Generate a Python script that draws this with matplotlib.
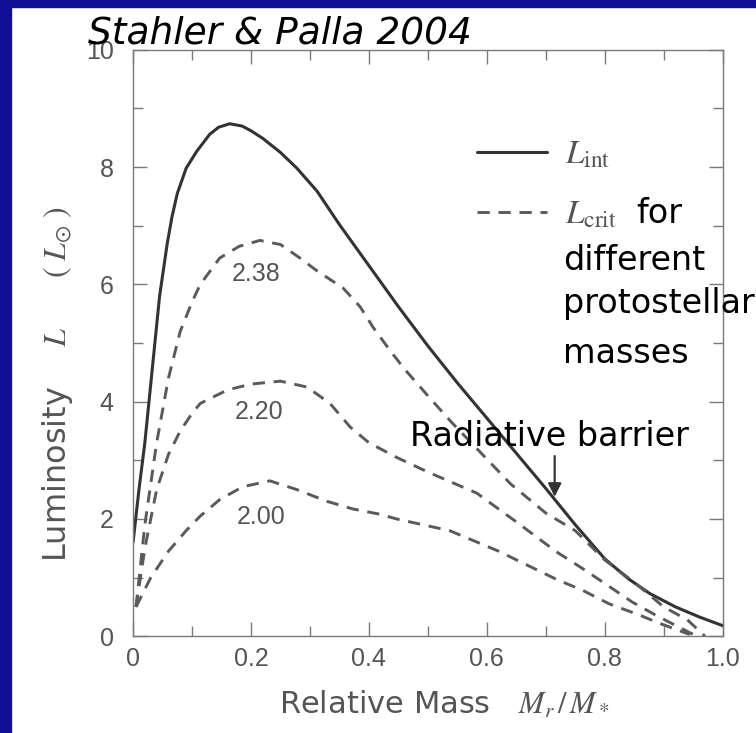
import matplotlib
matplotlib.use('Agg')
import matplotlib.pyplot as plt
from matplotlib.patches import Rectangle
from matplotlib.ticker import MultipleLocator

# luminosity values (Stahler & Palla 2004)
x_int = [0, 0.01, 0.02, 0.035, 0.045, 0.058, 0.066, 0.075, 0.09, 0.108, 0.13, 0.145,
         0.164, 0.185, 0.2, 0.22, 0.25, 0.278, 0.312, 0.35, 0.4, 0.45, 0.5, 0.55,
         0.6, 0.65, 0.7, 0.75, 0.8, 0.84, 0.876, 0.92, 0.96, 1.0]
L_int = [1.6, 2.5, 3.3, 4.8, 5.8, 6.7, 7.15, 7.55, 7.98, 8.27, 8.56, 8.68,
         8.74, 8.7, 8.62, 8.49, 8.25, 7.98, 7.59, 7.02, 6.32, 5.62, 4.95, 4.32,
         3.72, 3.12, 2.52, 1.9, 1.32, 0.98, 0.73, 0.5, 0.33, 0.18]

# critical luminosity, one curve per protostellar mass
crit_labels = ['2.38', '2.20', '2.00']
x_238 = [0.005, 0.02, 0.04, 0.06, 0.08, 0.1, 0.114, 0.147, 0.18, 0.215, 0.25, 0.283,
         0.312, 0.356, 0.385, 0.407, 0.436, 0.46, 0.5, 0.54, 0.583, 0.64, 0.7, 0.75,
         0.8, 0.85, 0.9, 0.94, 0.97]
L_238 = [0.5, 1.9, 3.3, 4.4, 5.2, 5.7, 6.0, 6.45, 6.65, 6.75, 6.68, 6.45,
         6.23, 5.94, 5.62, 5.27, 4.87, 4.56, 4.1, 3.65, 3.2, 2.6, 2.1, 1.8,
         1.3, 0.92, 0.5, 0.28, 0.0]
x_220 = [0.005, 0.02, 0.04, 0.06, 0.08, 0.1, 0.114, 0.16, 0.2, 0.25, 0.295, 0.334,
         0.368, 0.4, 0.447, 0.5, 0.583, 0.65, 0.718, 0.763, 0.803, 0.847, 0.888, 0.95]
L_220 = [0.5, 1.5, 2.5, 3.1, 3.5, 3.8, 3.97, 4.2, 4.3, 4.35, 4.25, 3.97,
         3.57, 3.3, 3.05, 2.8, 2.44, 1.95, 1.44, 1.15, 0.88, 0.58, 0.35, 0.03]
x_200 = [0.005, 0.03, 0.06, 0.09, 0.114, 0.147, 0.186, 0.232, 0.278, 0.329, 0.373,
         0.419, 0.447, 0.537, 0.62, 0.718, 0.763, 0.808, 0.854, 0.893, 0.944]
L_200 = [0.5, 1.0, 1.45, 1.8, 2.05, 2.33, 2.55, 2.65, 2.5, 2.3, 2.17,
         2.08, 2.0, 1.8, 1.45, 0.97, 0.78, 0.55, 0.38, 0.22, 0.03]
crit_label_pos = [(0.208, 6.18), (0.214, 3.82), (0.217, 2.03)]

x_ticks = [0, 0.2, 0.4, 0.6, 0.8, 1.0]
x_ticklabels = ['0', '0.2', '0.4', '0.6', '0.8', '1.0']
y_ticks = [0, 2, 4, 6, 8, 10]

plt.rcParams['mathtext.fontset'] = 'stix'
gray = '#555555'
axcol = '#7a7a7a'

fig = plt.figure(figsize=(7.56, 7.33), dpi=100)
fig.patch.set_facecolor('white')
# blue slide frame
fig.patches.append(Rectangle((0, 0), 11 / 756, 1, transform=fig.transFigure,
                             color='#100f96', zorder=0))
fig.patches.append(Rectangle((0, 1 - 7 / 733), 1, 7 / 733, transform=fig.transFigure,
                             color='#100f96', zorder=0))

ax = fig.add_axes([0.176, 0.132, 0.780, 0.800])
ax.set_xlim(0, 1)
ax.set_ylim(0, 10)

line_int, = ax.plot(x_int, L_int, color='#333333', lw=2.2, solid_capstyle='round')
dashes = (4.2, 3.0)
crit_lines = []
for xs, ys in [(x_238, L_238), (x_220, L_220), (x_200, L_200)]:
    ln, = ax.plot(xs, ys, color='#5a5a5a', lw=2.1, dashes=dashes)
    crit_lines.append(ln)

for lab, (px, py) in zip(crit_labels, crit_label_pos):
    ax.text(px, py, lab, ha='center', va='center', fontsize=18, color=gray,
            family='Liberation Sans')

# axes styling
for sp in ax.spines.values():
    sp.set_color(axcol)
    sp.set_linewidth(1.0)
ax.set_xticks(x_ticks)
ax.set_xticklabels(x_ticklabels)
ax.set_yticks(y_ticks)
ax.xaxis.set_minor_locator(MultipleLocator(0.1))
ax.yaxis.set_minor_locator(MultipleLocator(1))
ax.tick_params(which='both', direction='in', top=True, right=True, color=axcol,
               width=1.0, labelcolor=gray, labelsize=18)
ax.tick_params(which='major', length=10)
ax.tick_params(which='minor', length=7)
ax.tick_params(axis='y', pad=14)
ax.tick_params(axis='x', pad=8)
for t in ax.get_xticklabels() + ax.get_yticklabels():
    t.set_family('Liberation Sans')

ax.set_xlabel(r'Relative Mass   $M_r\,/\,M_*$', fontsize=22, color=gray)
ax.xaxis.set_label_coords(0.527, -0.09)
ax.set_ylabel(r'Luminosity    $L$     $(\;L_{\odot}\;)$', fontsize=23, color=gray)
ax.yaxis.set_label_coords(-0.098, 0.43)

leg = ax.legend([line_int, crit_lines[0]], [r'$L_{\rm int}$', r'$L_{\rm crit}$'],
                loc='upper left', bbox_to_anchor=(0.583, 0.85), frameon=False,
                fontsize=24, labelcolor=gray, handlelength=2.1, handletextpad=0.55,
                borderpad=0, borderaxespad=0, labelspacing=0.8)

# slide annotations
ax.text(0.854, 7.05, 'for', fontsize=24, color='black', va='baseline', clip_on=False)
ax.text(0.729, 6.25, 'different', fontsize=24, color='black', va='baseline', clip_on=False)
ax.text(0.729, 5.51, 'protostellar', fontsize=24, color='black', va='baseline', clip_on=False)
ax.text(0.729, 4.66, 'masses', fontsize=24, color='black', va='baseline', clip_on=False)
ax.text(0.469, 3.24, 'Radiative barrier', fontsize=24, color='black', va='baseline')
ax.annotate('', xy=(0.715, 2.33), xytext=(0.715, 3.12),
            arrowprops=dict(arrowstyle='-|>', color='#333333', lw=1.6, mutation_scale=20))

fig.text(88 / 756, 1 - 43 / 733, 'Stahler & Palla 2004', fontsize=27, style='italic',
         color='black', va='baseline')

fig.savefig('out.png', dpi=100, facecolor='white')
